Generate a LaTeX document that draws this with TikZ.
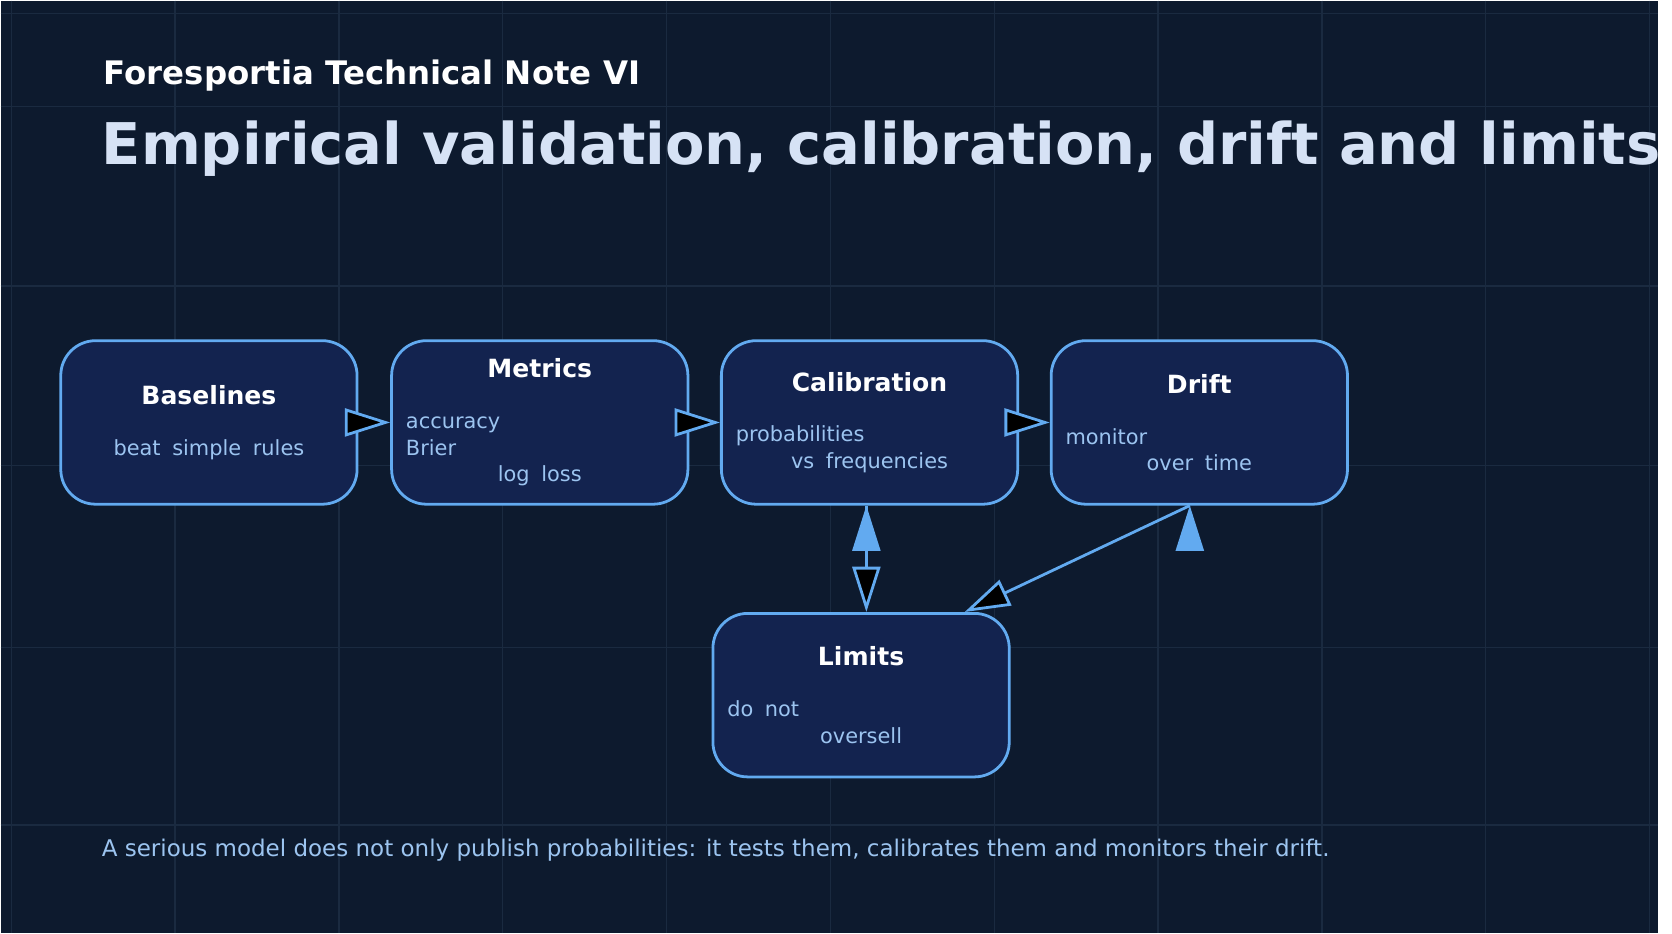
\documentclass[tikz,border=0pt]{standalone}
\usepackage{fontspec}
\setmainfont{DejaVu Sans}
\usetikzlibrary{arrows.meta}
\definecolor{bgc}{HTML}{0D1A2E}
\definecolor{gridc}{HTML}{1A2A40}
\definecolor{boxc}{HTML}{13234F}
\definecolor{edgec}{HTML}{62AAF0}
\definecolor{titlec}{HTML}{D6E2F5}
\definecolor{subc}{HTML}{9CC4F0}
\tikzset{
  stage/.style={shape=rectangle,draw=edgec,fill=boxc,line width=0.8pt,rounded corners=10pt,
    minimum width=2.99cm,minimum height=1.65cm,text width=2.7cm,align=center,text=white},
  flow/.style={-{Triangle[length=13pt,width=8pt]},draw=edgec,line width=0.8pt},
}
\newcommand{\stagebox}[2]{\fontsize{7.2}{9}\selectfont\bfseries #1\par\vspace{7pt}\fontsize{6}{7.6}\selectfont\mdseries\color{subc}#2\par}
\begin{document}
\begin{tikzpicture}[x=0.010663cm,y=-0.010663cm]
\fill[bgc] (0,0) rectangle (1568,882);
\foreach \gx in {10,165,320,475,630,785,940,1095,1250,1405,1560}
  \draw[gridc,line width=0.4pt] (\gx,0) -- (\gx,882);
\foreach \gy in {12,100,270,440,612,780}
  \draw[gridc,line width=0.4pt] (0,\gy) -- (1568,\gy);
\node[anchor=base west,text=white,font=\fontsize{9.3}{11}\selectfont\bfseries] (note) at (86,79) {Foresportia Technical Note VI};
\node[anchor=base west,text=titlec,font=\fontsize{16.5}{19}\selectfont\bfseries] (title) at (84,155) {Empirical validation, calibration, drift and limits};

\node[stage] (0) at (197,399) {\stagebox{Baselines}{beat simple rules}};
\node[stage] (1) at (510,399) {\stagebox{Metrics}{accuracy\newline Brier\newline log loss}};
\node[stage] (2) at (822,399) {\stagebox{Calibration}{probabilities\newline vs frequencies}};
\node[stage] (3) at (1134,399) {\stagebox{Drift}{monitor\newline over time}};
\node[stage] (4) at (814,657) {\stagebox{Limits}{do not\newline oversell}};

\path [flow] (0) edge (1);
\path [flow] (1) edge (2);
\path [flow] (2) edge (3);
\path [flow] (2.south -| 819,0) edge (4.north -| 819,0);
\path [flow] (3.south -| 1125,0) edge (4.north -| 912,0);

\node[anchor=base west,text=subc,font=\fontsize{6.6}{8}\selectfont] (foot) at (84,810) {A serious model does not only publish probabilities: it tests them, calibrates them and monitors their drift.};
\end{tikzpicture}
\end{document}
